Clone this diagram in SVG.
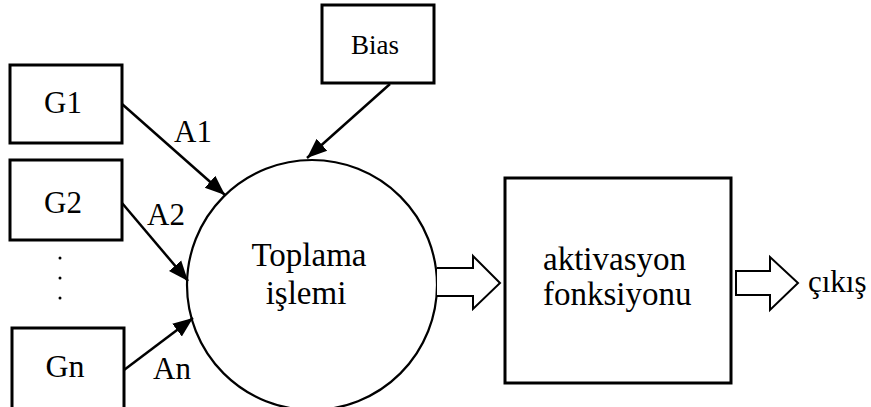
<svg xmlns="http://www.w3.org/2000/svg" width="871" height="407" viewBox="0 0 871 407">
<style>
.box{fill:#fff;stroke:#000;stroke-width:3}
.t{font-family:"Liberation Serif","Times New Roman",serif;fill:#000}
.con{stroke:#000;stroke-width:2.5;fill:none}
.hollow{fill:#fff;stroke:#000;stroke-width:2;stroke-linejoin:miter}
</style>
<defs>
<marker id="ah" markerUnits="userSpaceOnUse" markerWidth="22" markerHeight="18" refX="20" refY="9" orient="auto">
<path d="M0,1 L20,9 L0,17 Z" fill="#000"/>
</marker>
</defs>
<rect width="871" height="407" fill="#fff"/>
<g id="sum">
<circle cx="312" cy="285" r="125" fill="#fff" stroke="#000" stroke-width="2.2"/>
<text class="t" x="309" y="266" font-size="33" text-anchor="middle">Toplama</text>
<text class="t" x="306" y="304" font-size="33" text-anchor="middle">işlemi</text>
</g>
<g id="g1">
<rect class="box" x="10" y="65" width="112" height="78"/>
<text class="t" x="63" y="113" font-size="31" text-anchor="middle">G1</text>
</g>
<g id="g2">
<rect class="box" x="10" y="160" width="112" height="80"/>
<text class="t" x="63" y="213" font-size="31" text-anchor="middle">G2</text>
</g>
<g id="dots">
<circle cx="60" cy="258" r="1.5" fill="#000"/>
<circle cx="60" cy="278" r="1.5" fill="#000"/>
<circle cx="60" cy="298" r="1.5" fill="#000"/>
</g>
<g id="gn">
<rect class="box" x="12" y="328" width="112" height="90"/>
<text class="t" x="65" y="377" font-size="32" text-anchor="middle">Gn</text>
</g>
<g id="bias">
<rect class="box" x="322" y="5" width="112" height="78"/>
<text class="t" x="375" y="54" font-size="27" text-anchor="middle">Bias</text>
</g>
<g id="act">
<rect class="box" x="505" y="178" width="226" height="205"/>
<text class="t" x="543" y="270" font-size="33">aktivasyon</text>
<text class="t" x="543" y="305" font-size="33">fonksiyonu</text>
</g>
<g id="out">
<text class="t" x="808" y="292" font-size="31">çıkış</text>
</g>
<g id="connectors">
<line class="con" x1="122" y1="104" x2="225" y2="195" marker-end="url(#ah)"/>
<line class="con" x1="122" y1="203" x2="188" y2="281" marker-end="url(#ah)"/>
<line class="con" x1="124" y1="370" x2="193" y2="318" marker-end="url(#ah)"/>
<line class="con" x1="390" y1="84" x2="307" y2="158" marker-end="url(#ah)"/>
<path class="hollow" d="M437,268 H473 V256 L500,283 L473,309 V296 H437"/>
<path class="hollow" d="M736,271 H770 V257 L798,283 L770,310 V295 H736 Z"/>
<text class="t" x="193" y="142" font-size="31" text-anchor="middle">A1</text>
<text class="t" x="166" y="225" font-size="31" text-anchor="middle">A2</text>
<text class="t" x="172" y="379" font-size="31" text-anchor="middle">An</text>
</g>
</svg>
